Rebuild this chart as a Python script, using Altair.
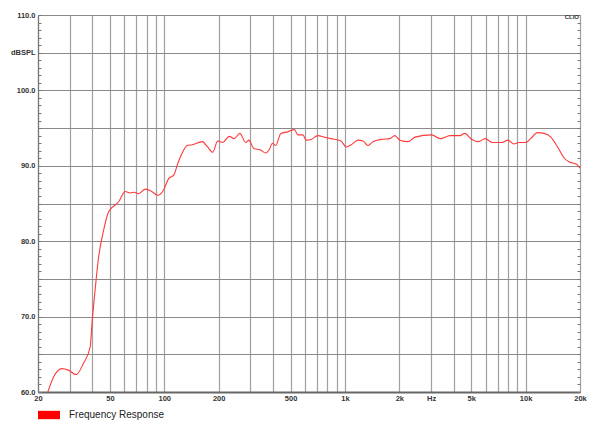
import altair as alt
import pandas as pd

freq = [22.6, 24.4, 27.1, 29.5, 32.5, 35.7, 38.9, 39.8, 41.4, 43.1, 46.2, 49.2, 53.5, 55.8,
        60.8, 64.8, 68.3, 72.2, 78.6, 83.8, 92.3, 99.1, 105.7, 113, 118.4, 125.6, 133.9, 143,
        162.4, 173.6, 185.4, 197.6, 210.8, 229, 243.8, 262, 282, 294, 313, 341, 364, 380, 397,
        414, 442, 482, 525, 549, 585, 610, 650, 707, 769, 838, 951, 1015, 1085, 1180, 1258,
        1340, 1431, 1590, 1770, 1890, 2013, 2240, 2440, 3020, 3357, 3820, 4340, 4590, 5040,
        5490, 5980, 6520, 7400, 7990, 8600, 9170, 9990, 10660, 11620, 12680, 13800, 15030,
        16380, 17470, 19140, 20000]
spl = [59.9, 62.0, 63.1, 62.9, 62.3, 63.8, 66.0, 69.1, 73.5, 77.5, 81.5, 83.9, 84.8, 85.2,
       86.6, 86.4, 86.5, 86.3, 86.9, 86.7, 86.1, 86.8, 88.3, 88.8, 90.2, 91.7, 92.7, 92.8,
       93.2, 92.5, 91.8, 93.3, 93.1, 93.9, 93.6, 94.3, 93.1, 93.4, 92.3, 92.1, 91.7, 92.1, 93.0,
       92.7, 94.3, 94.5, 94.8, 94.1, 94.1, 93.4, 93.5, 94.0, 93.8, 93.6, 93.3, 92.5, 92.8, 93.4, 93.3,
       92.7, 93.2, 93.5, 93.6, 94.0, 93.4, 93.2, 93.8, 94.1, 93.6, 94.0, 94.0, 94.3, 93.5,
       93.2, 93.6, 93.1, 93.1, 93.4, 92.9, 93.1, 93.1, 93.6, 94.4, 94.3, 93.8, 92.5,
       91.0, 90.5, 90.2, 89.7]
series = ["Frequency Response"] * len(freq)

x_grid = [20, 30, 40, 50, 60, 70, 80, 90, 100, 200, 300, 400, 500, 600, 700, 800, 900,
          1000, 2000, 3000, 4000, 5000, 6000, 7000, 8000, 9000, 10000, 20000]
y_grid = [60, 65, 70, 75, 80, 85, 90, 95, 100, 105, 110]
y_minor = list(range(60, 111))

df = pd.DataFrame({"freq": freq, "spl": spl, "series": series})

W, H = 542, 377
xs = alt.Scale(type="log", domain=[20, 20000], nice=False)
ys = alt.Scale(domain=[60, 110], nice=False, zero=False)

x_enc = alt.X("freq:Q", scale=xs, axis=alt.Axis(
    values=x_grid, grid=True, ticks=False, title=None,
    labelExpr="indexof([20,50,100,200,500,1000,2000,3000,5000,10000,20000], datum.value) < 0 ? '' : (datum.value == 3000 ? 'Hz' : (datum.value >= 1000 ? (datum.value/1000) + 'k' : datum.value + ''))",
    labelFont="Liberation Sans", labelFontSize=7.5, labelFontWeight="bold", labelColor="#333",
    labelPadding=2, labelFlush=False, labelOverlap=False,
    domainColor="#666", domainWidth=1.8, gridColor="#a0a0a0", gridWidth=1.2))

line = alt.Chart(df).mark_line(strokeWidth=1.1, interpolate="monotone", clip=True).encode(
    x=x_enc,
    y=alt.Y("spl:Q", scale=ys, axis=alt.Axis(
        values=y_grid, grid=True, ticks=False, title=None, orient="left",
        labelExpr="datum.value == 105 ? 'dBSPL' : (datum.value % 10 == 0 ? format(datum.value, '.1f') : '')",
        labelFont="Liberation Sans", labelFontSize=7.5, labelFontWeight="bold", labelColor="#333",
        labelPadding=3, labelFlush=False, labelOverlap=False,
        domainColor="#777", domainWidth=1.2, gridColor="#8a8a8a", gridWidth=1.2)),
    color=alt.Color("series:N", scale=alt.Scale(domain=["Frequency Response"], range=["#ff3a3a"]),
                    legend=alt.Legend(title=None, orient="none", legendX=0, legendY=389,
                                      symbolType="M-1,-0.38L1,-0.38L1,0.38L-1,0.38Z",
                                      symbolSize=484, symbolFillColor="#ff0000",
                                      symbolStrokeColor="#ff0000", symbolStrokeWidth=0,
                                      labelFont="Liberation Sans", labelFontSize=10,
                                      labelColor="#222", labelOffset=9)),
)

minor_left = alt.Chart(df).mark_line(strokeOpacity=0).encode(
    x=x_enc,
    y=alt.Y("spl:Q", scale=ys, axis=alt.Axis(
        values=y_minor, orient="left", offset=-3, tickSize=3, labels=False, domain=False,
        grid=False, title=None, tickColor="#777", tickWidth=1)),
)
minor_right = alt.Chart(df).mark_line(strokeOpacity=0).encode(
    x=x_enc,
    y=alt.Y("spl:Q", scale=ys, axis=alt.Axis(
        values=y_minor, orient="right", offset=-3, tickSize=3, labels=False, domain=False,
        grid=False, title=None, tickColor="#777", tickWidth=1)),
)

clio = alt.Chart(pd.DataFrame({"t": ["CLIO"]})).mark_text(
    align="right", baseline="middle", font="Liberation Sans", fontSize=6, fontWeight="bold",
    color="#333").encode(text="t:N", x=alt.value(W - 1), y=alt.value(2))

chart = alt.layer(line, minor_left, minor_right, clio).resolve_axis(y="independent").properties(
    width=W, height=H,
    autosize=alt.AutoSizeParams(type="none"),
    padding={"left": 30, "top": 7, "right": 10, "bottom": 33},
).configure_view(stroke="#888", strokeWidth=1.2).configure(background="white")

chart.save("out.html", embed_options={"renderer": "svg", "actions": False})
